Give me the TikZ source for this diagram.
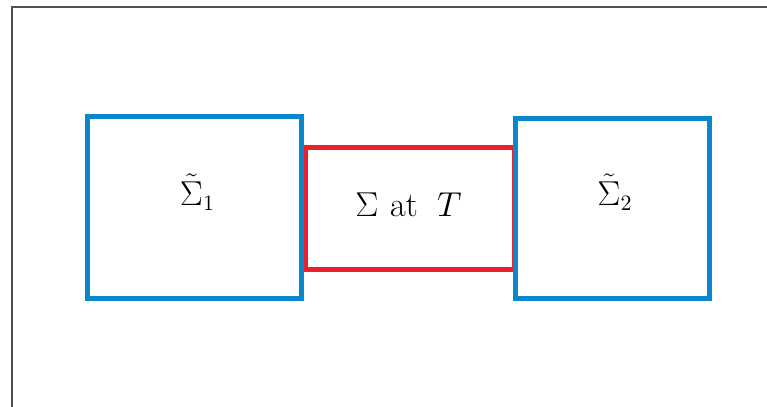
\documentclass[tikz,border=0pt]{standalone}
\usepackage{amsmath}
\definecolor{boxblue}{RGB}{10,134,204}
\definecolor{boxred}{RGB}{232,33,43}
\definecolor{frame}{RGB}{80,80,80}
\begin{document}
\begin{tikzpicture}[x=0.5pt,y=-0.5pt,
  bluebox/.style={draw=boxblue,line width=2.5pt,rectangle,inner sep=0pt},
  redbox/.style={draw=boxred,line width=2.5pt,rectangle,inner sep=0pt},
  lbl/.style={anchor=base,inner sep=0pt,font=\fontsize{16}{19}\selectfont}]
\useasboundingbox (0,0) rectangle (767,407);
% frame
\coordinate (tl) at (11.8,6.7);
\coordinate (tr) at (767,6.7);
\coordinate (bl) at (11.8,407);
\draw[frame,line width=1pt] (bl) -- (tl) -- (tr);
% boxes
\node[redbox,minimum width=104.5pt,minimum height=60.75pt] (mid) at (409.5,208.25) {};
\node[bluebox,minimum width=106.75pt,minimum height=91.25pt] (left) at (194.25,207.25) {};
\node[bluebox,minimum width=97pt,minimum height=90.25pt] (right) at (612,208.25) {};
% labels
\node[lbl] (lt) at (197.5,205) {$\tilde{\Sigma}_1$};
\node[lbl] (mt) at (408.5,216) {$\Sigma\hspace{0.35em}\mathrm{at}\hspace{0.6em}T$};
\node[lbl] (rt) at (615,205) {$\tilde{\Sigma}_2$};
\end{tikzpicture}
\end{document}
